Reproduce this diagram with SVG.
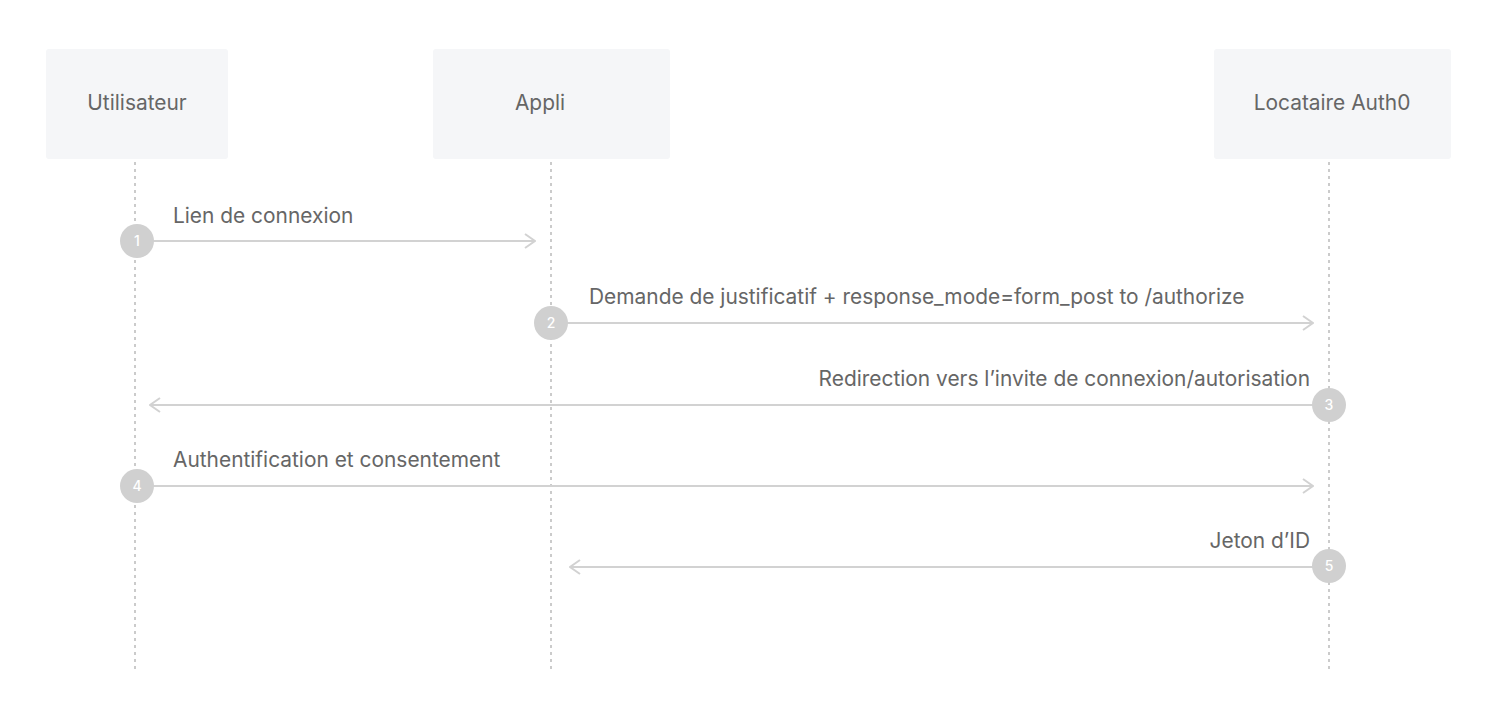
<svg xmlns="http://www.w3.org/2000/svg" width="1500" height="712" viewBox="0 0 1500 712">
<style>
.box{fill:#f5f6f8}
.t{font-family:Inter,"Noto Sans",sans-serif;font-size:20.9px;fill:#666666}
.life{stroke:#cbcbcb;stroke-width:2;stroke-dasharray:3 4;fill:none}
.msg{stroke:#d2d2d2;stroke-width:2;fill:none}
.dot{fill:#d0d0d0}
.n{font-family:Inter,"Noto Sans",sans-serif;font-size:14px;font-weight:500;fill:#ffffff;text-anchor:middle}
</style>
<defs>
<marker id="ah" viewBox="0 0 12 16" refX="11" refY="8" markerWidth="12" markerHeight="16" markerUnits="userSpaceOnUse" orient="auto">
<path d="M1 1 L11 8 L1 15" fill="none" stroke="#d2d2d2" stroke-width="2"/>
</marker>
</defs>
<rect width="1500" height="712" fill="#ffffff"/>
<g id="utilisateur">
<rect class="box" x="46" y="49" width="182" height="110" rx="3"/>
<text class="t" x="137" y="110" text-anchor="middle">Utilisateur</text>
</g>
<g id="appli">
<rect class="box" x="433" y="49" width="237" height="110" rx="3"/>
<text class="t" x="540" y="110" text-anchor="middle">Appli</text>
</g>
<g id="auth0">
<rect class="box" x="1214" y="49" width="237" height="110" rx="3"/>
<text class="t" x="1332" y="110" text-anchor="middle">Locataire Auth0</text>
</g>
<g id="lifelines">
<line class="life" x1="135" y1="162" x2="135" y2="672"/>
<line class="life" x1="551" y1="162" x2="551" y2="672"/>
<line class="life" x1="1329" y1="162" x2="1329" y2="672"/>
</g>
<g id="connectors">
<line class="msg" x1="137" y1="241" x2="535" y2="241" marker-end="url(#ah)"/>
<line class="msg" x1="551" y1="323" x2="1313" y2="323" marker-end="url(#ah)"/>
<line class="msg" x1="1329" y1="405" x2="150" y2="405" marker-end="url(#ah)"/>
<line class="msg" x1="137" y1="486" x2="1313" y2="486" marker-end="url(#ah)"/>
<line class="msg" x1="1329" y1="567" x2="570" y2="567" marker-end="url(#ah)"/>
<text class="t" x="173" y="223">Lien de connexion</text>
<text class="t" x="589" y="304">Demande de justificatif + response_mode=form_post to /authorize</text>
<text class="t" x="1310" y="386" text-anchor="end">Redirection vers l’invite de connexion/autorisation</text>
<text class="t" x="173" y="467">Authentification et consentement</text>
<text class="t" x="1310" y="548" text-anchor="end">Jeton d’ID</text>
</g>
<g id="step1"><circle class="dot" cx="137" cy="241" r="17"/><text class="n" x="137" y="246">1</text></g>
<g id="step2"><circle class="dot" cx="551" cy="323" r="17"/><text class="n" x="551" y="328">2</text></g>
<g id="step3"><circle class="dot" cx="1329" cy="405" r="17"/><text class="n" x="1329" y="410">3</text></g>
<g id="step4"><circle class="dot" cx="137" cy="486" r="17"/><text class="n" x="137" y="491">4</text></g>
<g id="step5"><circle class="dot" cx="1329" cy="566" r="17"/><text class="n" x="1329" y="571">5</text></g>
</svg>
